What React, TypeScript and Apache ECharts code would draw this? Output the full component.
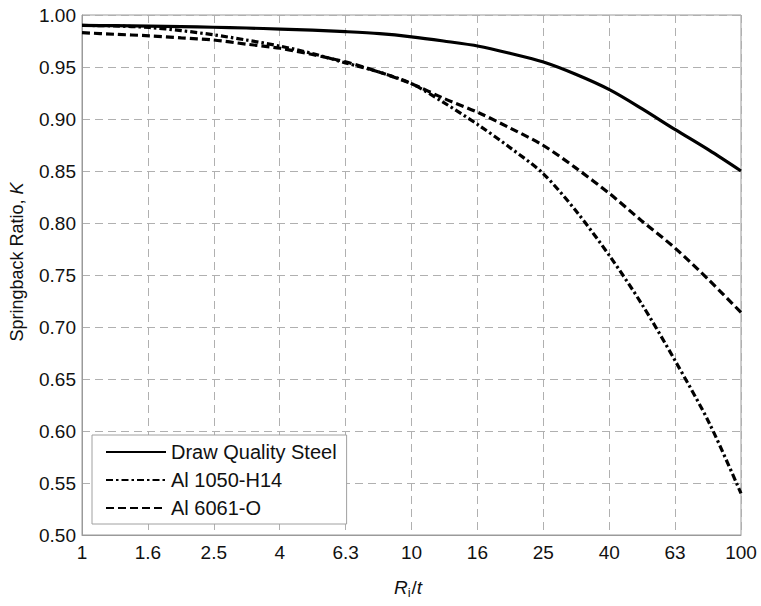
import React, { useEffect, useRef } from "react";
import * as echarts from "echarts";

const RT = [1, 1.25, 1.6, 2, 2.5, 3.15, 4, 5, 6.3, 8, 10, 12.5, 16, 20, 25, 31.5, 40, 50, 63, 80, 100];
const STEEL = [0.99, 0.9897, 0.9893, 0.9888, 0.9882, 0.9875, 0.9865, 0.9855, 0.984, 0.982, 0.979, 0.975, 0.97, 0.963, 0.955, 0.943, 0.928, 0.91, 0.89, 0.87, 0.85];
const AL1050 = [0.99, 0.9895, 0.988, 0.985, 0.981, 0.976, 0.97, 0.963, 0.954, 0.945, 0.934, 0.916, 0.894, 0.872, 0.848, 0.812, 0.768, 0.722, 0.668, 0.608, 0.54];
const AL6061 = [0.983, 0.9815, 0.98, 0.978, 0.976, 0.972, 0.968, 0.962, 0.955, 0.945, 0.934, 0.92, 0.906, 0.891, 0.875, 0.853, 0.828, 0.802, 0.776, 0.745, 0.714];

const SERIES_NAMES = ["Draw Quality Steel", "Al 1050-H14", "Al 6061-O"];
const X_TICK_VALUES = [1, 1.6, 2.5, 4, 6.3, 10, 16, 25, 40, 63, 100];
const X_TICK_LABELS = ["1", "1.6", "2.5", "4", "6.3", "10", "16", "25", "40", "63", "100"];

const FONT = "'Liberation Sans', Arial, Helvetica, sans-serif";

function xLabel(v: number): string {
  let best = 0;
  let bestD = Infinity;
  X_TICK_VALUES.forEach((t, i) => {
    const d = Math.abs(Math.log10(t) - Math.log10(v));
    if (d < bestD) {
      bestD = d;
      best = i;
    }
  });
  return bestD < 0.05 ? X_TICK_LABELS[best] : "";
}

export default function App() {
  const ref = useRef<HTMLDivElement>(null);
  useEffect(() => {
    if (!ref.current) return;
    const chart = echarts.init(ref.current, null, { renderer: "svg" });
    const pts = (ys: number[]) => RT.map((x, i) => [x, ys[i]]);
    chart.setOption({
      animation: false,
      backgroundColor: "#fff",
      grid: {
        left: 82,
        right: 20,
        top: 15,
        bottom: 71,
        show: true,
        borderColor: "#9a9a9a",
        borderWidth: 1,
        backgroundColor: "transparent",
      },
      legend: {
        orient: "vertical",
        left: 92,
        top: 435,
        itemWidth: 60,
        itemHeight: 20,
        itemGap: 8,
        padding: [7, 10, 6, 13],
        borderColor: "#a0a0a0",
        borderWidth: 1,
        backgroundColor: "#fff",
        itemStyle: { opacity: 0 },
        textStyle: { fontFamily: FONT, fontSize: 20, color: "#111", lineHeight: 20 },
        data: SERIES_NAMES,
      },
      xAxis: {
        type: "log",
        logBase: Math.pow(10, 0.2),
        min: 1,
        max: 100,
        interval: 1,
        splitNumber: 10,
        name: "{i|R}{sub|i}{n|/}{i|t}",
        nameLocation: "middle",
        nameGap: 42,
        nameTextStyle: {
          padding: [0, 7, 0, 0],
          rich: {
            i: { fontFamily: FONT, fontSize: 19, fontStyle: "italic", color: "#111", lineHeight: 20 },
            n: { fontFamily: FONT, fontSize: 19, color: "#111", lineHeight: 20 },
            sub: { fontFamily: FONT, fontSize: 13, color: "#111", lineHeight: 13, padding: [10, 1, 0, 0] },
          },
        },
        axisLine: { show: true, lineStyle: { color: "#9a9a9a", width: 1 } },
        axisTick: { show: false },
        axisLabel: {
          fontFamily: FONT,
          fontSize: 19,
          color: "#111",
          margin: 8,
          formatter: (v: number) => xLabel(v),
        },
        splitLine: { show: true, lineStyle: { color: "#b0b0b0", type: [8, 5], width: 1 } },
        minorTick: { show: false },
      },
      yAxis: {
        type: "value",
        min: 0.5,
        max: 1.0,
        interval: 0.05,
        name: "Springback Ratio, {i|K}",
        nameLocation: "middle",
        nameGap: 56,
        nameTextStyle: {
          fontFamily: FONT,
          fontSize: 18,
          color: "#111",
          padding: [0, 0, 0, 26],
          rich: {
            i: { fontFamily: FONT, fontSize: 18, fontStyle: "italic", color: "#111" },
          },
        },
        axisLine: { show: true, lineStyle: { color: "#9a9a9a", width: 1 } },
        axisTick: { show: false },
        axisLabel: {
          fontFamily: FONT,
          fontSize: 19,
          color: "#111",
          margin: 6,
          formatter: (v: number) => v.toFixed(2),
        },
        splitLine: { show: true, lineStyle: { color: "#b0b0b0", type: [8, 5], width: 1 } },
      },
      series: [
        {
          name: SERIES_NAMES[0],
          type: "line",
          data: pts(STEEL),
          smooth: 0.3,
          symbol: "none",
          lineStyle: { color: "#000", width: 3.2, type: "solid" },
          itemStyle: { color: "#000" },
        },
        {
          name: SERIES_NAMES[1],
          type: "line",
          data: pts(AL1050),
          smooth: 0.3,
          symbol: "none",
          lineStyle: { color: "#000", width: 3.2, type: [7, 3, 2.5, 3] },
          itemStyle: { color: "#000" },
        },
        {
          name: SERIES_NAMES[2],
          type: "line",
          data: pts(AL6061),
          smooth: 0.3,
          symbol: "none",
          lineStyle: { color: "#000", width: 3.2, type: [8, 4] },
          itemStyle: { color: "#000" },
        },
      ],
    });
    return () => chart.dispose();
  }, []);
  return (
    <div
      ref={ref}
      style={{ position: "fixed", left: 0, top: 0, width: 761, height: 606, background: "#fff" }}
    />
  );
}
